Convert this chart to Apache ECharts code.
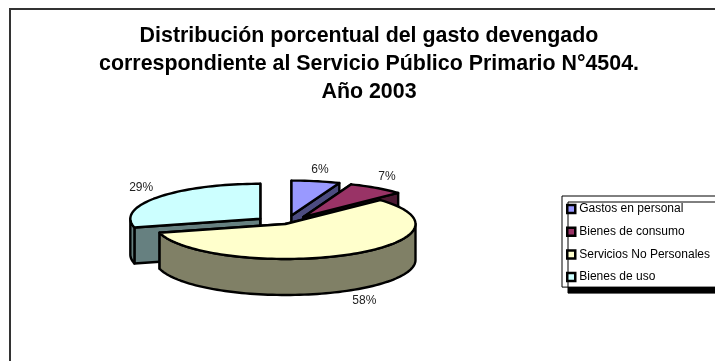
<!DOCTYPE html>
<html>
<head>
<meta charset="utf-8">
<style>html,body{margin:0;padding:0;background:#fff}#chart{width:715px;height:361px}</style>
<script src="https://cdn.jsdelivr.net/npm/echarts@6/dist/echarts.min.js"></script>
</head>
<body>
<div id="chart"></div>
<script>
// Gasto devengado, Servicio Público Primario N°4504, año 2003
const categories = ['Gastos en personal', 'Bienes de consumo', 'Servicios No Personales', 'Bienes de uso'];
const shares = [6, 7, 58, 29];

// Slice styling and pull-out, in the same order as the categories
const topColors = ['#9999FF', '#993366', '#FFFFCC', '#CCFFFF'];
const sideColors = ['#4C4C80', '#4D1A33', '#808066', '#668080'];
const explode = [0.245, 0.245, 0, 0.245];
const layers = [2, 3, 5, 4];
const labelNudgeX = [1, 1, 8, -3];
const labelNudgeY = [1, -1, -1, -2];

// Tilted-disc geometry in pixels
const CX = 285.5, CY = 224, RX = 130, RY = 35, DEPTH = 36;
const STROKE = { stroke: '#000', lineWidth: 2.4, lineJoin: 'round' };

const total = shares.reduce((a, b) => a + b, 0);
const rad = d => d * Math.PI / 180;

// Angles run clockwise from twelve o'clock
function rim(c, deg, drop) {
  return [c[0] + RX * Math.sin(rad(deg)), c[1] - RY * Math.cos(rad(deg)) + (drop || 0)];
}
function arc(c, from, to, drop) {
  const pts = [];
  const n = Math.max(2, Math.ceil((to - from) / 2));
  for (let i = 0; i <= n; i++) pts.push(rim(c, from + (to - from) * i / n, drop));
  return pts;
}
function poly(points, fill) {
  return { type: 'polygon', shape: { points }, style: { fill, ...STROKE } };
}

function renderSlice(idx) {
  return function (params, api) {
    const value = api.value(0);
    const before = shares.slice(0, idx).reduce((a, b) => a + b, 0);
    const from = before / total * 360;
    const to = (before + value) / total * 360;
    const mid = (from + to) / 2;
    const c = [CX + explode[idx] * RX * Math.sin(rad(mid)), CY - explode[idx] * RY * Math.cos(rad(mid))];
    const side = sideColors[idx];
    const children = [];

    // Cut faces, drawn back to front
    [from, to].forEach(a => {
      const p = rim(c, a);
      const low = [c[0], c[1] + DEPTH];
      children.push(poly([c, p, [p[0], p[1] + DEPTH], low], side));
    });

    // Outer wall: only the part of the rim on the near half shows
    const a0 = Math.max(from, 90), a1 = Math.min(to, 270);
    if (a1 > a0) {
      children.push(poly(arc(c, a0, a1, 0).concat(arc(c, a0, a1, DEPTH).reverse()), side));
    }

    // Top face
    children.push(poly([c].concat(arc(c, from, to)), topColors[idx]));

    // Percentage label outside the rim
    const lowerHalf = Math.cos(rad(mid)) < 0;
    children.push({
      type: 'text',
      style: {
        x: c[0] + (RX + 17) * Math.sin(rad(mid)) + labelNudgeX[idx],
        y: c[1] - (RY + 13) * Math.cos(rad(mid)) + (lowerHalf ? DEPTH : 0) + labelNudgeY[idx],
        text: value + '%',
        font: '12px "Liberation Sans", Arial, sans-serif',
        fill: '#222',
        align: 'center',
        verticalAlign: 'middle'
      }
    });
    return { type: 'group', children };
  };
}

const chart = echarts.init(document.getElementById('chart'), null, { renderer: 'canvas' });
chart.setOption({
  animation: false,
  backgroundColor: '#fff',
  title: {
    text: 'Distribución porcentual del gasto devengado\ncorrespondiente al Servicio Público Primario N°4504.\nAño 2003',
    left: 364, top: 17, textAlign: 'center',
    textStyle: { fontFamily: '"Liberation Sans", Arial, sans-serif', fontSize: 21.4, fontWeight: 'bold', color: '#000', lineHeight: 28 }
  },
  legend: {
    orient: 'vertical',
    left: 562, top: 196,
    padding: [6, 40, 3, 4],
    itemGap: 8.7,
    itemWidth: 8, itemHeight: 8,
    icon: 'rect',
    borderColor: '#000', borderWidth: 1,
    backgroundColor: '#fff',
    shadowColor: '#000', shadowBlur: 0, shadowOffsetX: 6, shadowOffsetY: 6,
    selectedMode: false,
    data: categories,
    textStyle: { fontFamily: '"Liberation Sans", Arial, sans-serif', fontSize: 12, color: '#000', padding: [0, 0, 0, -1], lineHeight: 14 },
    itemStyle: { borderColor: '#000', borderWidth: 2.5 }
  },
  graphic: [{
    type: 'polyline', silent: true,
    shape: { points: [[10, 361], [10, 9], [715, 9]] },
    style: { fill: null, stroke: '#333', lineWidth: 2 }
  }],
  series: categories.map((name, i) => ({
    type: 'custom',
    name,
    coordinateSystem: 'none',
    z: layers[i],
    clip: false,
    itemStyle: { color: topColors[i], borderColor: '#000', borderWidth: 2 },
    data: [[shares[i]]],
    renderItem: renderSlice(i)
  }))
});
</script>
</body>
</html>
